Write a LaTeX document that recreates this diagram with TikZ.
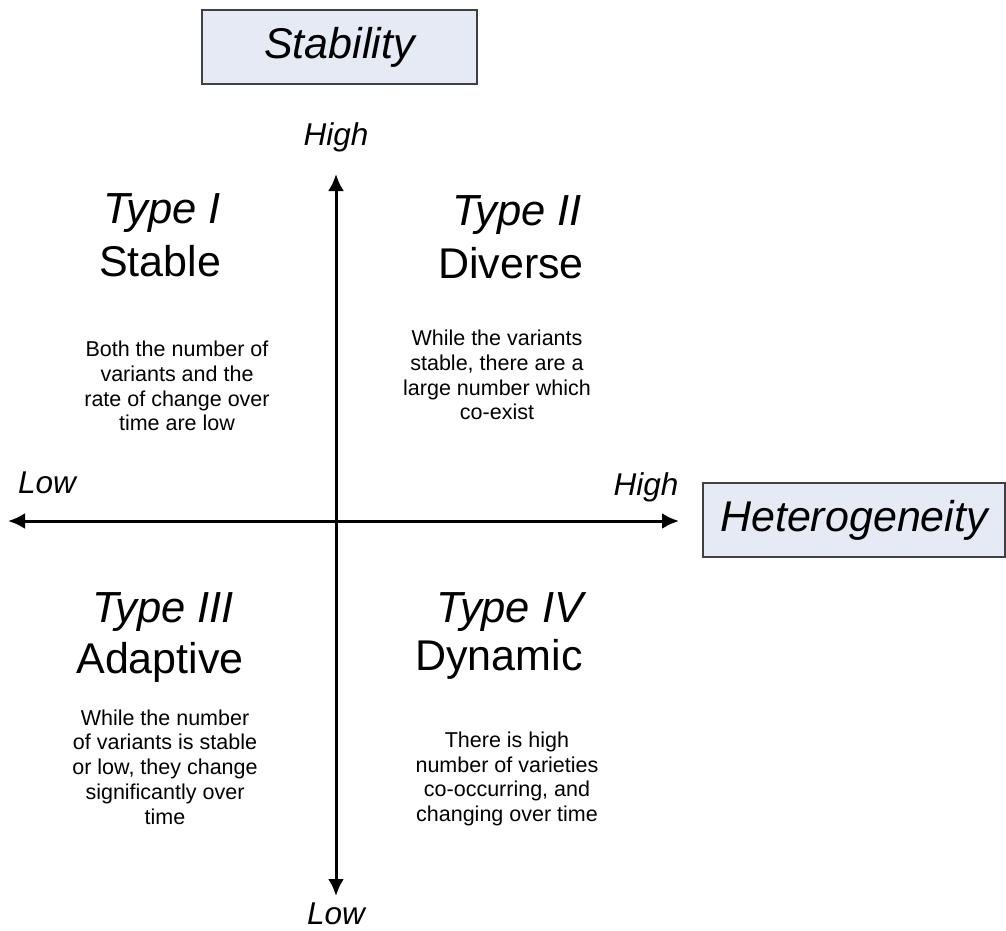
\documentclass[tikz,border=0pt]{standalone}
\usepackage{fontspec}
\setmainfont{Liberation Sans}
\usetikzlibrary{arrows.meta}
\definecolor{boxfill}{HTML}{E6EAF5}
\definecolor{boxline}{HTML}{404040}
\begin{document}
\begin{tikzpicture}[x=1pt,y=-1pt,
  titlebox/.style={draw=boxline,line width=1.2pt,fill=boxfill,minimum height=74pt,inner sep=0pt,font=\fontsize{43}{50}\selectfont\itshape},
  axislabel/.style={font=\fontsize{31.5}{36}\selectfont\itshape,inner sep=0pt},
  typelabel/.style={font=\fontsize{43.5}{50}\selectfont\itshape,inner sep=0pt},
  namelabel/.style={font=\fontsize{43}{50}\selectfont,inner sep=0pt},
  bodytext/.style={font=\fontsize{21.5}{24.7}\selectfont,align=center,inner sep=0pt},
  axisline/.style={line width=3pt,{Latex[length=17pt,width=16pt]}-{Latex[length=17pt,width=16pt]}}]
\useasboundingbox (0,0) rectangle (1006,931);
\node[titlebox,minimum width=275pt] (stab) at (339.5,47) {Stability};
\node[titlebox,minimum width=302pt] (het) at (854,520) {Heterogeneity};
\coordinate (left) at (8,521);
\coordinate (right) at (679,521);
\coordinate (top) at (336,174);
\coordinate (bottom) at (336,896);
\draw[axisline] (left) -- (right);
\draw[axisline] (bottom) -- (top);
\node[axislabel] (hightop) at (336,137) {High};
\node[axislabel] (lowbot) at (336,914) {Low};
\node[axislabel] (lowleft) at (47,483) {Low};
\node[axislabel] (highright) at (646,487) {High};
\node[typelabel] (t1) at (162,213) {Type I};
\node[namelabel] (n1) at (160,261) {Stable};
\node[bodytext] (b1) at (177,386) {Both the number of\\variants and the\\rate of change over\\time are low};
\node[typelabel] (t2) at (517,215) {Type II};
\node[namelabel] (n2) at (511,263) {Diverse};
\node[bodytext] (b2) at (497,375) {While the variants\\stable, there are a\\large number which\\co-exist};
\node[typelabel] (t3) at (163,612) {Type III};
\node[namelabel] (n3) at (160,662) {Adaptive};
\node[bodytext] (b3) at (165,767) {While the number\\of variants is stable\\or low, they change\\significantly over\\time};
\node[typelabel] (t4) at (510,612) {Type IV};
\node[namelabel] (n4) at (499,659) {Dynamic};
\node[bodytext] (b4) at (507,779) {There is high\\number of varieties\\co-occurring, and\\changing over time};
\end{tikzpicture}
\end{document}
